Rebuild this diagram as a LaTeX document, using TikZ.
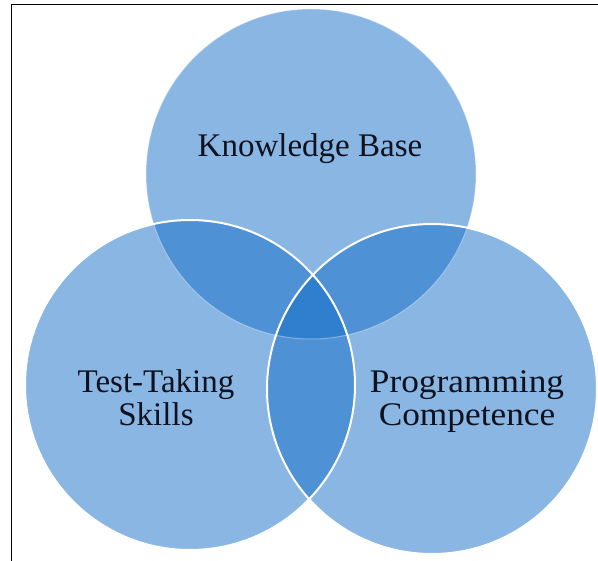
\documentclass[tikz,border=0pt]{standalone}
\usepackage{fontspec}
\setmainfont{Liberation Serif}
\definecolor{vennblue}{RGB}{20,110,200}
\definecolor{labelink}{RGB}{15,17,30}
\begin{document}
\begin{tikzpicture}[x=1pt,y=-1pt,
  vennfill/.style={fill=vennblue,fill opacity=0.5},
  vennedge/.style={draw=white,line width=2pt},
  faintedge/.style={draw=white,draw opacity=0.35,line width=1pt},
  venntext/.style={font=\fontsize{33}{33}\selectfont,text=labelink,align=center,inner sep=0pt}]
\useasboundingbox (0,0) rectangle (598,561);
\fill[white] (0,0) rectangle (598,561);
\draw[line width=1pt] (11,561) -- (11,5) -- (598,5);
% circles
\coordinate (ctop) at (311,174);
\coordinate (cleft) at (190,385);
\coordinate (cright) at (432,389);
\path[vennfill] (ctop) circle[radius=165];
\path[vennfill] (cleft) circle[radius=165];
\path[vennfill] (cright) circle[radius=165];
\path[faintedge] (ctop) circle[radius=165];
\path[vennedge] (cleft) circle[radius=165];
\path[vennedge] (cright) circle[radius=165];
% labels
\node[venntext,anchor=base] (kb) at (310,157) {Knowledge Base};
\node[venntext,anchor=base] (tts) at (156,426) {Test-Taking\\Skills};
\node[venntext,anchor=base,xscale=1.07] (pc) at (467,426) {Programming\\Competence};
\end{tikzpicture}
\end{document}
